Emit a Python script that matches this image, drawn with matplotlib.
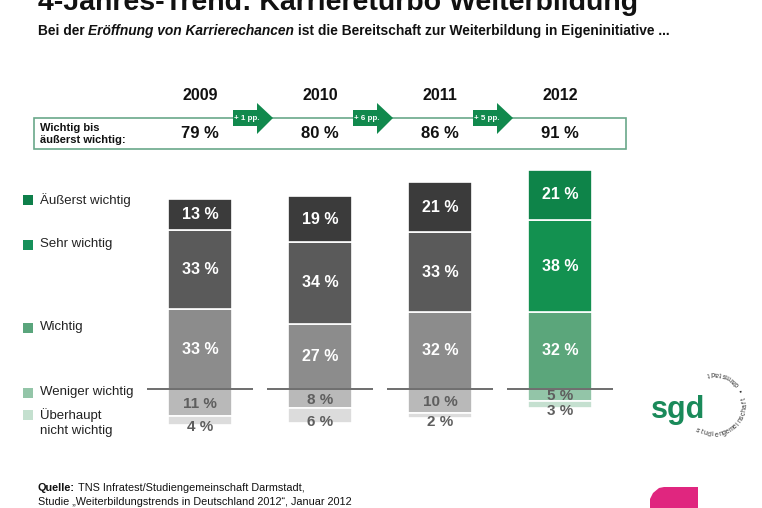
import matplotlib.pyplot as plt
from matplotlib.patches import Polygon, Rectangle
import numpy as np

plt.rcParams['font.family'] = ['Liberation Sans', 'DejaVu Sans']

# data
years = ['2009', '2010', '2011', '2012']
aeusserst = [13, 19, 21, 21]
sehr = [33, 34, 33, 38]
wichtig = [33, 27, 32, 32]
weniger = [11, 8, 10, 5]
ueberhaupt = [4, 6, 2, 3]
summe = [79, 80, 86, 91]
zuwachs = ['+ 1 pp.', '+ 6 pp.', '+ 5 pp.']
legend_labels = ['Äußerst wichtig', 'Sehr wichtig', 'Wichtig', 'Weniger wichtig',
                 'Überhaupt\nnicht wichtig']

grey_cols = ['#3b3b3b', '#5a5a5a', '#8c8c8c', '#b9b9b9', '#dcdcdc']
green_cols = ['#0e8449', '#139150', '#5ba67b', '#93c5a8', '#c5e0d0']
legend_cols = ['#0e7f4a', '#16905a', '#5aa57c', '#93c5a8', '#c4e0cf']

W, H = 762, 508
fig = plt.figure(figsize=(W / 100, H / 100), dpi=100)


def px(x, y):
    # pixel position (from top left) -> figure fraction
    return x / W, 1 - y / H


# bar axes: x index 0..3 at 200, 320, 440, 560 px; y=0 at 389 px, 2.41 px per %
scale = 2.41
ax = fig.add_axes([80 / W, 1 - 440 / H, 600 / W, 280 / H])
ax.set_xlim(-1, 4)
ax.set_ylim(-(440 - 389) / scale, (389 - 160) / scale)
ax.axis('off')

x = np.arange(len(years))
for i in x:
    cols = green_cols if i == 3 else grey_cols
    segs = [wichtig[i], sehr[i], aeusserst[i]]
    bottom = 0
    for v, c in zip(segs, [cols[2], cols[1], cols[0]]):
        ax.bar(i, v, bottom=bottom, width=0.54, color=c, edgecolor='white', linewidth=1.2)
        ax.text(i, bottom + v / 2, f'{v} %', ha='center', va='center', color='white',
                fontsize=11.5, fontweight='bold')
        bottom += v
    ax.bar(i, -weniger[i], bottom=0, width=0.54, color=cols[3], edgecolor='white', linewidth=1.2)
    ax.bar(i, -ueberhaupt[i], bottom=-weniger[i], width=0.54, color=cols[4],
           edgecolor='white', linewidth=1.2)
    ax.text(i, -weniger[i] / 2 - 0.6, f'{weniger[i]} %', ha='center', va='center',
            color='#5e5e5e', fontsize=11, fontweight='bold')
    ax.text(i, -weniger[i] - ueberhaupt[i] / 2 - 2.6, f'{ueberhaupt[i]} %', ha='center',
            va='center', color='#5e5e5e', fontsize=11, fontweight='bold')

ax.hlines([0] * len(x), x - 0.445, x + 0.445, color='#555555', linewidth=1.2, zorder=5)

# title and subtitle
fig.text(*px(38, 10), '4-Jahres-Trend: Karriereturbo Weiterbildung', fontsize=20.5,
         fontweight='bold', va='baseline', color='#111111')

renderer = fig.canvas.get_renderer()
xpos = 38
for part, style in [('Bei der ', 'normal'), ('Eröffnung von Karrierechancen', 'italic'),
                    (' ist die Bereitschaft zur Weiterbildung in Eigeninitiative ...', 'normal')]:
    t = fig.text(xpos / W, 1 - 31 / H, part, fontsize=9.9, fontweight='bold', style=style,
                 va='center', color='#111111')
    bb = t.get_window_extent(renderer)
    xpos = bb.x1

# top table
fig.patches.append(Rectangle(px(34, 149), 592 / W, 31 / H, transform=fig.transFigure,
                             facecolor='none', edgecolor='#6aa88a', linewidth=1.2))
fig.text(*px(40, 134), 'Wichtig bis\näußerst wichtig:', fontsize=8, fontweight='bold',
         va='center', linespacing=1.2, color='#111111')
for i, (yr, s) in enumerate(zip(years, summe)):
    cx = 200 + 120 * i
    fig.text(*px(cx, 96), yr, ha='center', va='center', fontsize=11.5, fontweight='bold',
             color='#111111')
    fig.text(*px(cx, 134), f'{s} %', ha='center', va='center', fontsize=12,
             fontweight='bold', color='#111111')

for i, z in enumerate(zuwachs):
    ox = 120 * i
    pts = [(233, 110), (257, 110), (257, 103), (273, 118), (257, 134), (257, 126), (233, 126)]
    fig.patches.append(Polygon([px(a + ox, b) for a, b in pts], closed=True,
                               transform=fig.transFigure, facecolor='#11894d',
                               edgecolor='none', zorder=3))
    fig.text(*px(247 + ox, 118), z, ha='center', va='center', fontsize=5.8,
             fontweight='bold', color='white', zorder=4)

# legend
leg_y = [200, 245, 328, 393, 415]
for lab, c, ly in zip(legend_labels, legend_cols, leg_y):
    fig.patches.append(Rectangle(px(23, ly + 5), 10 / W, 10 / H, transform=fig.transFigure,
                                 facecolor=c, edgecolor='none'))
    fig.text(*px(40, ly - 7), lab, fontsize=9.5, va='top', color='#222222',
             linespacing=1.3)

# source
q = fig.text(*px(38, 488), 'Quelle:', fontsize=7.8, fontweight='bold', va='center',
             color='#111111')
qx = q.get_window_extent(renderer).x1 + 3
fig.text(qx / W, 1 - 488 / H, 'TNS Infratest/Studiengemeinschaft Darmstadt,', fontsize=7.8,
         va='center', color='#111111')
fig.text(*px(38, 502), 'Studie \u201eWeiterbildungstrends in Deutschland 2012\u201c, Januar 2012',
         fontsize=7.8, va='center', color='#111111')

# sgd logo
fig.text(*px(678, 410), 'sgd', fontsize=22, fontweight='bold', ha='center', va='center',
         color='#1a8a5a')
ring = 'studiengemeinschaft \u2022 darmstadt'
cx, cy, r = 714, 404, 31
angles = np.linspace(-122, 100, len(ring))
for ch, a in zip(ring, angles):
    rad = np.deg2rad(a)
    fig.text(*px(cx + r * np.cos(rad), cy - r * np.sin(rad)), ch, fontsize=5,
             rotation=a + 90, ha='center', va='center', color='#333333',
             rotation_mode='anchor')

# pink mark
pink = [(650, 508), (650, 499), (653, 493), (659, 488), (664, 487), (698, 487), (698, 508)]
fig.patches.append(Polygon([px(a, b) for a, b in pink], closed=True,
                           transform=fig.transFigure, facecolor='#e0267f', edgecolor='none'))

fig.savefig('out.png', dpi=100)
